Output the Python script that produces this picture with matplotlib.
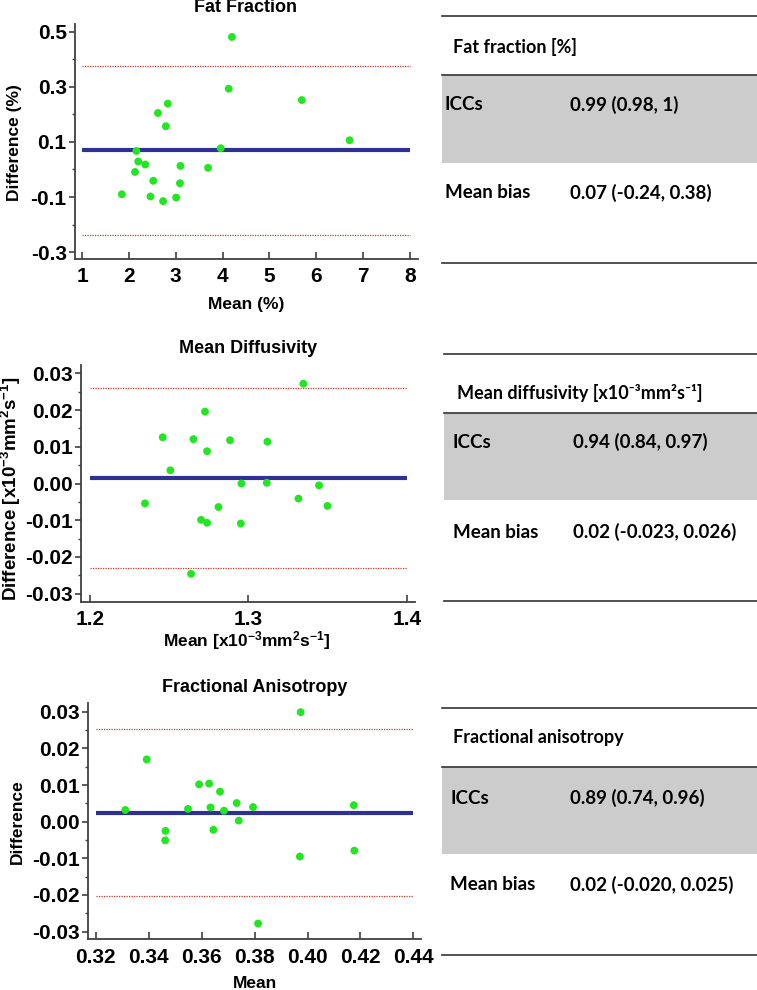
import matplotlib
matplotlib.use("Agg")
import matplotlib.pyplot as plt
from matplotlib.ticker import MultipleLocator, FixedLocator
from matplotlib.patches import Rectangle
from matplotlib.lines import Line2D

# ---------------- data ----------------
ff_mean = [1.85, 2.16, 2.20, 2.13, 2.35, 2.52, 2.46, 2.73, 2.62, 2.83, 2.79,
           3.01, 3.09, 3.10, 3.69, 3.96, 4.13, 4.20, 5.69, 6.71]
ff_diff = [-0.090, 0.067, 0.029, -0.009, 0.018, -0.041, -0.098, -0.115, 0.205,
           0.239, 0.157, -0.102, -0.050, 0.013, 0.006, 0.077, 0.293, 0.481,
           0.252, 0.106]
ff_bias = 0.071
ff_loa = [-0.237, 0.375]
ff_xticks = [1, 2, 3, 4, 5, 6, 7, 8]
ff_yticks = [-0.3, -0.1, 0.1, 0.3, 0.5]
ff_ytlabels = ["-0.3", "-0.1", "0.1", "0.3", "0.5"]

md_mean = [1.2347, 1.2459, 1.2507, 1.2638, 1.2653, 1.2701, 1.2726, 1.2739,
           1.2739, 1.2811, 1.2884, 1.2952, 1.2956, 1.3116, 1.3120, 1.3316,
           1.3347, 1.3446, 1.3499]
md_diff = [-0.0054, 0.0126, 0.0036, -0.0246, 0.0121, -0.0099, 0.0196, 0.0088,
           -0.0107, -0.0064, 0.0118, -0.0109, 0.0000, 0.0002, 0.0114, -0.0041,
           0.0272, -0.0005, -0.0061]
md_bias = 0.0015
md_loa = [-0.0229, 0.0259]
md_xticks = [1.2, 1.3, 1.4]
md_yticks = [-0.03, -0.02, -0.01, 0.0, 0.01, 0.02, 0.03]
md_ytlabels = ["-0.03", "-0.02", "-0.01", "0.00", "0.01", "0.02", "0.03"]

fa_mean = [0.3311, 0.3392, 0.3463, 0.3462, 0.3548, 0.3590, 0.3628, 0.3633,
           0.3644, 0.3669, 0.3684, 0.3732, 0.3740, 0.3794, 0.3813, 0.3974,
           0.3971, 0.4175, 0.4177]
fa_diff = [0.0032, 0.0170, -0.0025, -0.0051, 0.0035, 0.0102, 0.0104, 0.0039,
           -0.0022, 0.0082, 0.0030, 0.0051, 0.0003, 0.0040, -0.0278, 0.0299,
           -0.0095, 0.0045, -0.0079]
fa_bias = 0.0024
fa_loa = [-0.0203, 0.0252]
fa_xticks = [0.32, 0.34, 0.36, 0.38, 0.40, 0.42, 0.44]
fa_yticks = [-0.03, -0.02, -0.01, 0.0, 0.01, 0.02, 0.03]
fa_ytlabels = ["-0.03", "-0.02", "-0.01", "0.00", "0.01", "0.02", "0.03"]

titles = ["Fat Fraction", "Mean Diffusivity", "Fractional Anisotropy"]
xlabels = ["Mean (%)", r"Mean [x10$^{-3}$mm$^{2}$s$^{-1}$]", "Mean"]
ylabels = ["Difference (%)", r"Difference [x10$^{-3}$mm$^{2}$s$^{-1}$]", "Difference"]

table_headers = ["Fat fraction [%]", "Mean diffusivity [x10\u207b\u00b3mm\u00b2s\u207b\u00b9]",
                 "Fractional anisotropy"]
table_rows = ["ICCs", "Mean bias"]
icc_values = ["0.99 (0.98, 1)", "0.94 (0.84, 0.97)", "0.89 (0.74, 0.96)"]
bias_values = ["0.07 (-0.24, 0.38)", "0.02 (-0.023, 0.026)", "0.02 (-0.020, 0.025)"]

# ---------------- style ----------------
W, H = 757, 990
plt.rcParams['font.family'] = ['Liberation Sans', 'DejaVu Sans']
plt.rcParams['font.weight'] = 'bold'
plt.rcParams['mathtext.fontset'] = 'custom'
plt.rcParams['mathtext.rm'] = 'Liberation Sans:bold'
plt.rcParams['mathtext.it'] = 'Liberation Sans:bold'
plt.rcParams['mathtext.bf'] = 'Liberation Sans:bold'
plt.rcParams['mathtext.default'] = 'rm'

fig = plt.figure(figsize=(W / 100, H / 100), dpi=100)

def fx(px):
    return px / W

def fy(py):
    return 1 - py / H

SPINE = '#404040'
GREEN = '#22e622'
NAVY = '#2e3192'
RED = '#c0392b'

# axes boxes in pixels: left, top, right, bottom
boxes = [(75, 24, 418, 259), (81, 365, 415, 601.7), (88, 703, 421, 939.3)]
xlims = [(0.85, 8.17), (1.1943, 1.4052), (0.317, 0.4429)]
ylims = [(-0.325, 0.528), (-0.0322, 0.0323), (-0.0321, 0.0324)]
yminor = [0.1, 0.005, 0.005]
title_pos = [(246, 7), (248, 349), (255, 687)]
ylab_pos = [(15, 143), (11, 489), (17, 822)]
ylab_size = [12.5, 13.5, 12.5]
xlab_pos = [(246, 304), (247, 641), (255, 983)]

datasets = [
    (ff_mean, ff_diff, ff_bias, ff_loa, ff_xticks, [str(v) for v in ff_xticks], ff_yticks, ff_ytlabels),
    (md_mean, md_diff, md_bias, md_loa, md_xticks, ["1.2", "1.3", "1.4"], md_yticks, md_ytlabels),
    (fa_mean, fa_diff, fa_bias, fa_loa, fa_xticks, ["%.2f" % v for v in fa_xticks], fa_yticks, fa_ytlabels),
]

for i, (xm, yd, bias, loa, xt, xtl, yt, ytl) in enumerate(datasets):
    l, t, r, b = boxes[i]
    ax = fig.add_axes([fx(l), fy(b), fx(r) - fx(l), fy(t) - fy(b)])
    ax.set_xlim(*xlims[i])
    ax.set_ylim(*ylims[i])
    for s in ['top', 'right']:
        ax.spines[s].set_visible(False)
    for s in ['left', 'bottom']:
        ax.spines[s].set_color(SPINE)
        ax.spines[s].set_linewidth(1.3)
    x0, x1 = xt[0], xt[-1]
    ax.plot([x0, x1], [loa[1], loa[1]], color=RED, lw=0.9, ls=(0, (1, 1)), zorder=2)
    ax.plot([x0, x1], [loa[0], loa[0]], color=RED, lw=0.9, ls=(0, (1, 1)), zorder=2)
    ax.plot([x0, x1], [bias, bias], color=NAVY, lw=3.0, zorder=3, solid_capstyle='butt')
    ax.scatter(xm, yd, s=32, color=GREEN, edgecolors='none', zorder=4)
    ax.xaxis.set_major_locator(FixedLocator(xt))
    ax.set_xticklabels(xtl)
    ax.yaxis.set_major_locator(FixedLocator(yt))
    ax.set_yticklabels(ytl)
    ax.yaxis.set_minor_locator(MultipleLocator(yminor[i]))
    ax.tick_params(axis='x', direction='in', length=5, width=1.2, color=SPINE,
                   labelsize=15, pad=6)
    ax.tick_params(axis='y', which='major', direction='out', length=4, width=1.2,
                   color=SPINE, labelsize=15, pad=2)
    ax.tick_params(axis='y', which='minor', direction='out', length=2.5, width=1.0,
                   color=SPINE)
    for lab in ax.get_xticklabels() + ax.get_yticklabels():
        lab.set_fontweight('bold')
    fig.text(fx(title_pos[i][0]), fy(title_pos[i][1]), titles[i], ha='center',
             va='center', fontsize=13, fontweight='bold')
    fig.text(fx(ylab_pos[i][0]), fy(ylab_pos[i][1]), ylabels[i], ha='center',
             va='center', rotation=90, fontsize=ylab_size[i], fontweight='bold')
    fig.text(fx(xlab_pos[i][0]), fy(xlab_pos[i][1]), xlabels[i], ha='center',
             va='center', fontsize=12.5, fontweight='bold')

# ---------------- tables ----------------
TFONT = ['Lato', 'DejaVu Sans']
GREY = '#cccccc'
# (x_left, top_line, header_y, mid_line, grey_bottom, icc_y, bias_y, bottom_line, header_x, row_x, val_x)
tables = [
    (442, 15.7, 47, 75, 163, 105, 193, 263, 453, 445, 570),
    (444, 354, 393, 413, 500, 442, 532, 601, 457, 453, 573),
    (442, 708, 738, 767, 854, 798, 885, 955, 453, 450, 570),
]
for j, (xl, tl, hy, ml, gb, iy, by, bl, hx, rx, vx) in enumerate(tables):
    fig.patches.append(Rectangle((fx(xl), fy(gb)), fx(W) - fx(xl), fy(ml) - fy(gb),
                                 transform=fig.transFigure, facecolor=GREY,
                                 edgecolor='none', zorder=0))
    for yy in (tl, ml, bl):
        fig.lines.append(Line2D([fx(xl), 1.0], [fy(yy), fy(yy)], transform=fig.transFigure,
                                color='#333333', lw=1.2))
    fig.text(fx(hx), fy(hy), table_headers[j], ha='left', va='center', fontsize=13,
             fontweight='bold', family=TFONT)
    fig.text(fx(rx), fy(iy), table_rows[0], ha='left', va='center', fontsize=13.5,
             fontweight='bold', family=TFONT)
    fig.text(fx(vx), fy(iy), icc_values[j], ha='left', va='center', fontsize=13.5,
             fontweight='bold', family=TFONT)
    fig.text(fx(rx), fy(by), table_rows[1], ha='left', va='center', fontsize=13.5,
             fontweight='bold', family=TFONT)
    fig.text(fx(vx), fy(by), bias_values[j], ha='left', va='center', fontsize=13.5,
             fontweight='bold', family=TFONT)

fig.savefig("out.png", dpi=100)
